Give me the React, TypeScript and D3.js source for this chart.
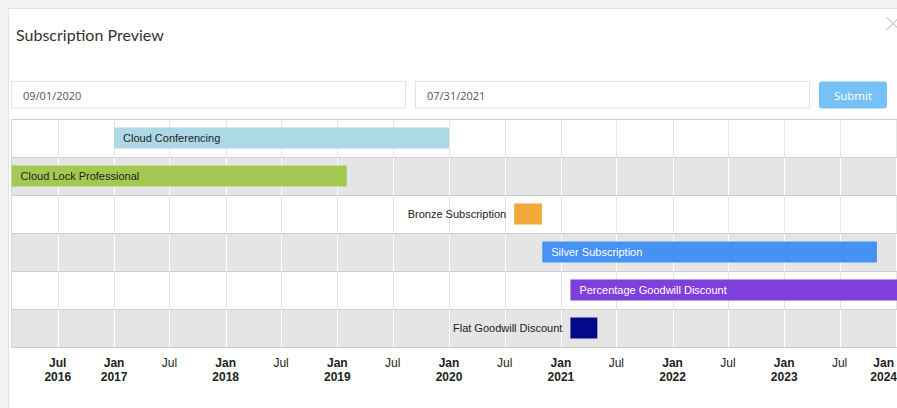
import * as d3 from "d3";

const width = 897;
const height = 408;

const chartLeft = 11.6;
const chartRight = 898;
const chartTop = 119;
const rowHeight = 38;

const domainStart = new Date(2016, 1, 1);
const domainEnd = new Date(2024, 0, 8);

const fromDate = "09/01/2020";
const toDate = "07/31/2021";

const names = [
  "Cloud Conferencing",
  "Cloud Lock Professional",
  "Bronze Subscription",
  "Silver Subscription",
  "Percentage Goodwill Discount",
  "Flat Goodwill Discount",
];
const starts = [
  new Date(2017, 0, 1),
  new Date(2016, 1, 1),
  new Date(2020, 7, 1),
  new Date(2020, 10, 1),
  new Date(2021, 1, 1),
  new Date(2021, 1, 1),
];
const ends = [
  new Date(2020, 0, 1),
  new Date(2019, 1, 1),
  new Date(2020, 9, 31),
  new Date(2023, 9, 31),
  new Date(2024, 0, 31),
  new Date(2021, 3, 30),
];
const colors = ["#add8e6", "#a4c951", "#f4a93b", "#4592f2", "#7f3fdb", "#02098b"];

const measure = (txt: string, font: string) => {
  const ctx = document.createElement("canvas").getContext("2d");
  if (!ctx) return txt.length * 6;
  ctx.font = font;
  return ctx.measureText(txt).width;
};

const App = () => {
  const x = d3.scaleTime().domain([domainStart, domainEnd]).range([chartLeft, chartRight]);
  const ticks = x.ticks(d3.timeMonth.every(6) as d3.TimeInterval);
  const chartBottom = chartTop + rowHeight * names.length;

  return (
    <svg
      width={width}
      height={height}
      style={{ position: "absolute", left: 0, top: 0, display: "block" }}
    >
      <rect x={0} y={0} width={width} height={height} fill="#f4f4f4" />
      <rect x={8.5} y={8.5} width={width} height={height} fill="#fff" stroke="#e2e2e2" />

      <text x={16} y={40.5} fontFamily="Lato" fontSize={16} fill="#333">
        Subscription Preview
      </text>
      <g stroke="#aaa" strokeWidth={1}>
        <line x1={886.5} y1={17} x2={899.5} y2={30} />
        <line x1={899.5} y1={17} x2={886.5} y2={30} />
      </g>

      <rect x={11.5} y={81.5} width={394} height={26.5} fill="#fff" stroke="#e2e2e2" />
      <text x={23} y={99.5} fontFamily="'Open Sans'" fontSize={11} fill="#555">
        {fromDate}
      </text>
      <rect x={415.5} y={81.5} width={394} height={26.5} fill="#fff" stroke="#e2e2e2" />
      <text x={427} y={99.5} fontFamily="'Open Sans'" fontSize={11} fill="#555">
        {toDate}
      </text>
      <rect x={819} y={81.5} width={68} height={27} rx={3} fill="#76c1f7" />
      <text x={853} y={99.5} textAnchor="middle" fontFamily="'Open Sans'" fontSize={11.5} fill="#fff">
        Submit
      </text>

      <clipPath id="chart-clip">
        <rect x={chartLeft - 1} y={chartTop} width={chartRight - chartLeft + 1} height={chartBottom - chartTop} />
      </clipPath>

      {names.map((n, i) => {
        const top = chartTop + i * rowHeight;
        const gray = i % 2 === 1;
        return (
          <g key={"row" + n}>
            <rect x={chartLeft} y={top} width={chartRight - chartLeft} height={rowHeight} fill={gray ? "#e5e5e5" : "#fff"} />
            {ticks.map((t) => (
              <line
                key={+t}
                x1={Math.round(x(t)) + 0.5}
                x2={Math.round(x(t)) + 0.5}
                y1={top}
                y2={top + rowHeight}
                stroke={gray ? "#fff" : "#e6e6e6"}
              />
            ))}
          </g>
        );
      })}
      {d3.range(names.length + 1).map((i) => (
        <line
          key={"h" + i}
          x1={chartLeft}
          x2={chartRight}
          y1={chartTop + i * rowHeight + 0.5}
          y2={chartTop + i * rowHeight + 0.5}
          stroke="#cfcfcf"
        />
      ))}
      <line x1={11.5} x2={11.5} y1={chartTop} y2={chartBottom} stroke="#d6d6d6" />

      <g clipPath="url(#chart-clip)">
        {names.map((n, i) => {
          const top = chartTop + i * rowHeight;
          const x0 = x(starts[i]);
          const x1 = x(ends[i]);
          const font = "11px Arial";
          const tw = measure(n, font);
          const inside = tw + 18 < x1 - x0;
          const dark = d3.lab(colors[i]).l < 70;
          return (
            <g key={"bar" + n}>
              <rect x={x0} y={top + 8.5} width={x1 - x0} height={21} fill={colors[i]} />
              <text
                x={inside ? x0 + 9 : x0 - 8}
                y={top + 19}
                dy="0.35em"
                textAnchor={inside ? "start" : "end"}
                fontFamily="Arial, 'Liberation Sans'"
                fontSize={11}
                fill={inside && dark ? "#fff" : "#222"}
              >
                {n}
              </text>
            </g>
          );
        })}
      </g>

      <g fontFamily="Arial, 'Liberation Sans'" fontSize={12} fill="#222" textAnchor="middle">
        {ticks.map((t, i) => {
          const isJan = t.getMonth() === 0;
          const showYear = isJan || i === 0;
          const lbl = d3.timeFormat("%Y")(t);
          let cx = x(t);
          const half = measure(lbl, "bold 12px Arial") / 2;
          if (cx + half > width) cx = width - half;
          return (
            <g key={"t" + +t}>
              <text x={cx} y={367} fontWeight={showYear ? "bold" : "normal"}>
                {d3.timeFormat("%b")(t)}
              </text>
              {showYear && (
                <text x={cx} y={381} fontWeight="bold">
                  {lbl}
                </text>
              )}
            </g>
          );
        })}
      </g>
    </svg>
  );
};

export default App;
